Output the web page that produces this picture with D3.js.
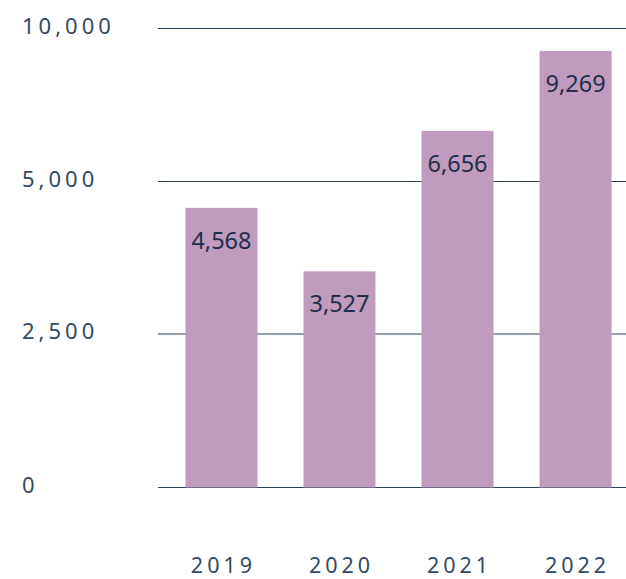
<!DOCTYPE html>
<html><head><meta charset="utf-8">
<script src="https://cdn.jsdelivr.net/npm/d3@7"></script>
<style>body{margin:0;background:#fff}svg{display:block}</style>
</head><body>
<script>
const years = ["2019","2020","2021","2022"];
const values = [4568, 3527, 6656, 9269];
const tickValues = [0, 2500, 5000, 10000];

const W = 626, H = 579;
const svg = d3.select("body").append("svg").attr("width", W).attr("height", H);
const font = "'Noto Sans', 'Open Sans', sans-serif";

const x = d3.scaleBand().domain(years).range([163, 634]).paddingInner(0.39).paddingOuter(0.19);
const y = d3.scaleLinear().domain(tickValues).range([487.5, 334, 181.5, 28.5]);

// gridlines
svg.append("g").selectAll("line").data(tickValues).join("line")
  .attr("x1", 158).attr("x2", 626)
  .attr("y1", d => y(d)).attr("y2", d => y(d))
  .attr("stroke", "#2e4259").attr("stroke-width", 1.2);

// y labels
svg.append("g").selectAll("text").data(tickValues).join("text")
  .attr("x", 22).attr("y", d => y(d) - 4)
  .attr("dominant-baseline", "central")
  .attr("font-family", font).attr("font-size", 22).attr("letter-spacing", 4)
  .attr("fill", "#34495e")
  .text(d => d3.format(",")(d));

// bars
svg.append("g").selectAll("rect").data(values).join("rect")
  .attr("x", (d, i) => x(years[i])).attr("width", x.bandwidth())
  .attr("y", d => y(d)).attr("height", d => y(0) - y(d))
  .attr("fill", "#c09bbe");

// value labels
svg.append("g").selectAll("text").data(values).join("text")
  .attr("x", (d, i) => x(years[i]) + x.bandwidth() / 2)
  .attr("y", d => y(d) + 32)
  .attr("text-anchor", "middle").attr("dominant-baseline", "central")
  .attr("font-family", font).attr("font-size", 23.5)
  .attr("fill", "#1f3048")
  .text(d => d3.format(",")(d));

// category labels
svg.append("g").selectAll("text").data(years).join("text")
  .attr("x", d => x(d) + x.bandwidth() / 2 + 2)
  .attr("y", 573)
  .attr("text-anchor", "middle")
  .attr("font-family", font).attr("font-size", 21.5).attr("letter-spacing", 4)
  .attr("fill", "#34495e")
  .text(d => d);
</script>
</body></html>
